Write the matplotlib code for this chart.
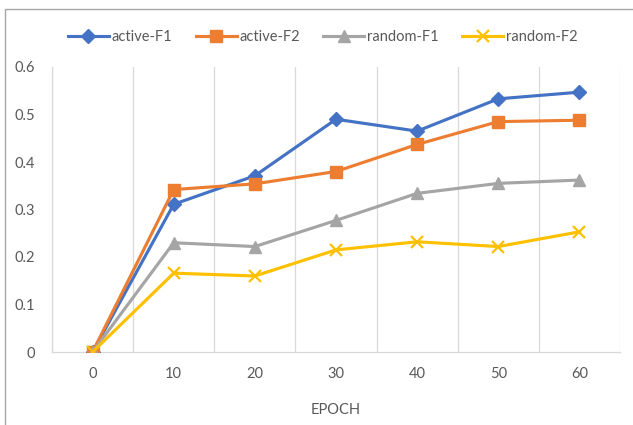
import matplotlib
matplotlib.use("Agg")
import matplotlib.pyplot as plt
from matplotlib.patches import Rectangle

plt.rcParams['font.family'] = ['Lato', 'DejaVu Sans']

epochs = ["0", "10", "20", "30", "40", "50", "60"]
active_f1 = [0.0, 0.311, 0.371, 0.490, 0.465, 0.533, 0.547]
active_f2 = [0.0, 0.342, 0.354, 0.380, 0.437, 0.485, 0.488]
random_f1 = [0.0, 0.230, 0.222, 0.277, 0.334, 0.355, 0.362]
random_f2 = [0.0, 0.166, 0.160, 0.215, 0.232, 0.222, 0.253]
series_names = ["active-F1", "active-F2", "random-F1", "random-F2"]
yticks = [0, 0.1, 0.2, 0.3, 0.4, 0.5, 0.6]
ytick_labels = ["0", "0.1", "0.2", "0.3", "0.4", "0.5", "0.6"]

colors = ["#4472C4", "#ED7D31", "#A5A5A5", "#FFC000"]
markers = ["D", "s", "^", "x"]
msizes = [7, 8, 8.5, 8]
text_color = "#595959"
grid_color = "#D9D9D9"

fig = plt.figure(figsize=(6.33, 4.25), dpi=100)
ax = fig.add_axes([52/633, 73/425, 568/633, 285/425])

x = list(range(len(epochs)))
for vals, name, c, m, ms in zip([active_f1, active_f2, random_f1, random_f2],
                                series_names, colors, markers, msizes):
    ax.plot(x, vals, color=c, lw=2.25, marker=m, markersize=ms,
            markeredgewidth=1.6 if m == "x" else 1.0, markeredgecolor=c,
            markerfacecolor=c, label=name, solid_joinstyle='round', zorder=3)

ax.set_xlim(-0.5, len(epochs) - 0.5)
ax.set_ylim(0, 0.6)
ax.set_xticks(x)
ax.set_xticklabels(epochs)
ax.set_yticks(yticks)
ax.set_yticklabels(ytick_labels)
for k in range(len(epochs) + 1):
    ax.axvline(k - 0.5, color=grid_color, lw=0.9, zorder=1)

ax.tick_params(axis='both', length=0, colors=text_color, labelsize=10.5)
ax.tick_params(axis='y', pad=12)
ax.tick_params(axis='x', pad=11)
for s in ['top', 'right']:
    ax.spines[s].set_visible(False)
ax.spines['left'].set_color(grid_color)
ax.spines['bottom'].set_color(grid_color)
ax.spines['left'].set_linewidth(0.9)
ax.spines['bottom'].set_linewidth(0.9)
ax.set_xlabel("EPOCH", color=text_color, fontsize=10.5, labelpad=16)

leg = fig.legend(loc='center', bbox_to_anchor=(0.51, 1 - 37/425), ncol=4,
                 frameon=False, fontsize=10.5, handlelength=2.8,
                 handletextpad=0.2, columnspacing=1.6)
for t in leg.get_texts():
    t.set_color(text_color)

fig.patches.append(Rectangle((5/633, -0.1), 2, 1 - 9/425 + 0.1,
                             transform=fig.transFigure, fill=False,
                             edgecolor="#A6A6A6", lw=1.0))

fig.savefig("out.png", dpi=100)
